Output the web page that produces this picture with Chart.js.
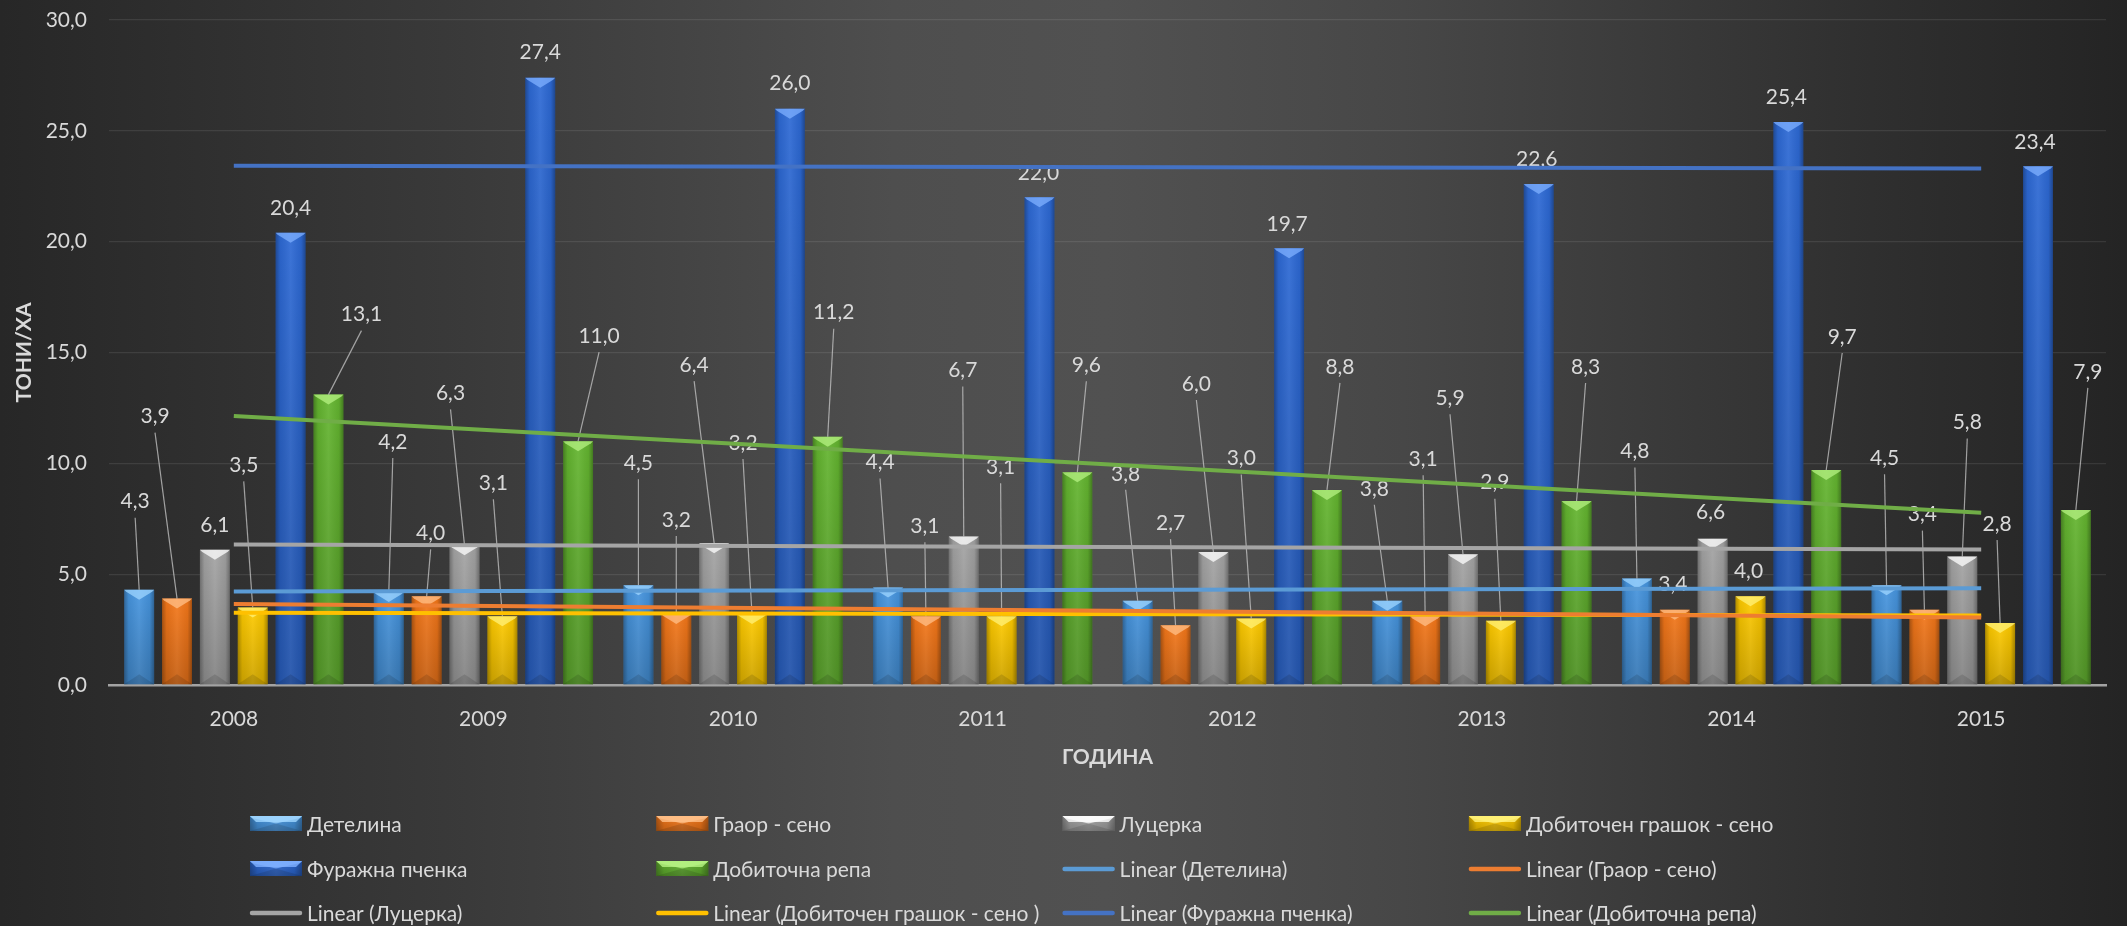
<!DOCTYPE html>
<html><head><meta charset="utf-8">
<script src="https://cdn.jsdelivr.net/npm/chart.js@4.4.1/dist/chart.umd.min.js"></script>
<style>
html,body{margin:0;padding:0;width:2127px;height:926px;overflow:hidden;}
body{background:linear-gradient(90deg,#272727 0%,#3a3a3a 22%,#4e4e4e 42%,#515151 52%,#474747 66%,#2f2f2f 88%,#242424 100%);}
canvas{display:block;}
</style></head><body>
<canvas id="c" width="2127" height="926"></canvas>
<script>
// ---- data ----
const years = ['2008','2009','2010','2011','2012','2013','2014','2015'];
const detelina = [4.3, 4.2, 4.5, 4.4, 3.8, 3.8, 4.8, 4.5];
const graor    = [3.9, 4.0, 3.2, 3.1, 2.7, 3.1, 3.4, 3.4];
const lucerka  = [6.1, 6.3, 6.4, 6.7, 6.0, 5.9, 6.6, 5.8];
const grashok  = [3.5, 3.1, 3.2, 3.1, 3.0, 2.9, 4.0, 2.8];
const pchenka  = [20.4, 27.4, 26.0, 22.0, 19.7, 22.6, 25.4, 23.4];
const repa     = [13.1, 11.0, 11.2, 9.6, 8.8, 8.3, 9.7, 7.9];
// linear trend lines (start at 2008, end at 2015)
const trendDetelina = [4.22, null, null, null, null, null, null, 4.36];
const trendGraor    = [3.65, null, null, null, null, null, null, 3.05];
const trendLucerka  = [6.34, null, null, null, null, null, null, 6.11];
const trendGrashok  = [3.26, null, null, null, null, null, null, 3.14];
const trendPchenka  = [23.43, null, null, null, null, null, null, 23.30];
const trendRepa     = [12.13, null, null, null, null, null, null, 7.77];
const yTicks = [0, 5, 10, 15, 20, 25, 30];

// ---- label placement (pixel offsets of each value label from its bar top) ----
const labelDx = [
  [-4, 4, 0, -8, -12, -13, -2, -2],
  [-22, 4, 0, -1, -5, -2, -2, -2],
  [0, -14, -20, -1, -17, -13, -2, 5],
  [-9, -9, -9, -1, -10, -6, -2, -3],
  [0, 0, 0, -1, -2, -2, -2, -3],
  [33, 21, 6, 9, 13, 9, 16, 12]
];
const labelDy = [
  [-88, -150, -122, -125, -127, -112, -127, -127],
  [-182, -63, -94, -90, -102, -157, -25, -95],
  [-25, -152, -178, -166, -168, -156, -26, -134],
  [-142, -133, -171, -149, -160, -138, -25, -99],
  [-25, -25, -25, -24, -24, -25, -25, -24],
  [-80, -105, -124, -107, -123, -134, -133, -138]
];

const FONT = "Lato, 'Open Sans', 'Liberation Sans', sans-serif";
const TXT = '#d9d9d9';
const fmt = v => v.toFixed(1).replace('.', ',');

function bar(label, data, color, hi) {
  return {type:'bar', label, data, backgroundColor: color, hiColor: hi, borderWidth: 0,
    order: 2, categoryPercentage: 0.91, barPercentage: 0.79};
}
function trend(label, data, color) {
  return {type:'line', label, data, borderColor: color, backgroundColor: color, borderWidth: 4,
    pointRadius: 0, pointHoverRadius: 0, spanGaps: true, fill: false, order: 1, tension: 0};
}

const datasets = [
  bar('Детелина', detelina, '#4796e0', '#9fd6ff'),
  bar('Граор - сено', graor, '#f5781a', '#ffc08a'),
  bar('Луцерка', lucerka, '#a4a4a4', '#ffffff'),
  bar('Добиточен грашок - сено', grashok, '#ffcb00', '#fff27a'),
  bar('Фуражна пченка', pchenka, '#2d69d4', '#7fb0ff'),
  bar('Добиточна репа', repa, '#64b530', '#b6f283'),
  trend('Linear (Детелина)', trendDetelina, '#5b9bd5'),
  trend('Linear (Граор - сено)', trendGraor, '#ed7d31'),
  trend('Linear (Луцерка)', trendLucerka, '#a5a5a5'),
  trend('Linear (Добиточен грашок - сено )', trendGrashok, '#ffc000'),
  trend('Linear (Фуражна пченка)', trendPchenka, '#4472c4'),
  trend('Linear (Добиточна репа)', trendRepa, '#70ad47')
];

function bevelBar(ctx, l, r, top, base, color, hi) {
  const w = r - l, x = (l + r) / 2, h = base - top;
  if (h <= 0) return;
  let g = ctx.createLinearGradient(l, 0, r, 0);
  g.addColorStop(0, 'rgba(0,0,0,0.30)');
  g.addColorStop(0.15, 'rgba(0,0,0,0.06)');
  g.addColorStop(0.5, 'rgba(255,255,255,0.07)');
  g.addColorStop(0.85, 'rgba(0,0,0,0.06)');
  g.addColorStop(1, 'rgba(0,0,0,0.32)');
  ctx.fillStyle = g; ctx.fillRect(l, top, w, h);
  g = ctx.createLinearGradient(0, top, 0, base);
  g.addColorStop(0, 'rgba(0,0,0,0)');
  g.addColorStop(1, 'rgba(0,0,0,0.18)');
  ctx.fillStyle = g; ctx.fillRect(l, top, w, h);
  const bh = Math.min(10, h / 2);
  ctx.beginPath(); ctx.moveTo(l, top); ctx.lineTo(r, top); ctx.lineTo(r - 2, top + 2); ctx.lineTo(x, top + bh); ctx.lineTo(l + 2, top + 2); ctx.closePath();
  ctx.globalAlpha = 0.75; ctx.fillStyle = hi; ctx.fill(); ctx.globalAlpha = 1;
  ctx.beginPath(); ctx.moveTo(l, base); ctx.lineTo(r, base); ctx.lineTo(x, base - bh); ctx.closePath();
  ctx.fillStyle = 'rgba(0,0,0,0.12)'; ctx.fill();
}

let labelsDrawn = false;
const decor = {
  id: 'decor',
  beforeDraw() { labelsDrawn = false; },
  afterDatasetDraw(chart, args) {
    const ds = chart.data.datasets[args.index];
    if (ds.type !== 'bar') return;
    const ctx = chart.ctx; ctx.save();
    args.meta.data.forEach(el => {
      const p = el.getProps(['x','y','base','width'], true);
      bevelBar(ctx, p.x - p.width/2, p.x + p.width/2, p.y, p.base, ds.backgroundColor, ds.hiColor);
    });
    ctx.restore();
  },
  beforeDatasetDraw(chart, args) {
    const ds = chart.data.datasets[args.index];
    if (ds.type !== 'line' || labelsDrawn) return;
    labelsDrawn = true;
    const ctx = chart.ctx; ctx.save();
    ctx.font = '21px ' + FONT; ctx.textAlign = 'center'; ctx.textBaseline = 'middle';
    chart.data.datasets.forEach((d, i) => {
      if (d.type !== 'bar') return;
      chart.getDatasetMeta(i).data.forEach((el, j) => {
        const p = el.getProps(['x','y'], true);
        const lx = p.x + labelDx[i][j], ly = p.y + labelDy[i][j];
        if (labelDy[i][j] < -35) {
          ctx.strokeStyle = 'rgba(200,200,200,0.75)'; ctx.lineWidth = 1.2;
          ctx.beginPath(); ctx.moveTo(lx, ly + 16); ctx.lineTo(p.x, p.y); ctx.stroke();
        }
        ctx.fillStyle = TXT;
        ctx.fillText(fmt(d.data[j]), lx, ly);
      });
    });
    ctx.restore();
  },
  afterDraw(chart) {
    const ctx = chart.ctx; ctx.save();
    ctx.font = '21px ' + FONT; ctx.textBaseline = 'middle'; ctx.textAlign = 'left';
    const rows = [824, 869, 913];
    chart.data.datasets.forEach((d, i) => {
      const col = i % 4, row = Math.floor(i / 4);
      const x = 250 + col * 406.3, y = rows[row];
      if (d.type === 'bar') {
        ctx.fillStyle = d.backgroundColor; ctx.fillRect(x, y - 8, 52, 15);
        bevelBar(ctx, x, x + 52, y - 8, y + 7, d.backgroundColor, d.hiColor);
        ctx.fillStyle = d.hiColor; ctx.globalAlpha = 0.8;
        ctx.beginPath(); ctx.moveTo(x, y - 8); ctx.lineTo(x + 52, y - 8); ctx.lineTo(x + 46, y - 2); ctx.lineTo(x + 6, y - 2); ctx.closePath(); ctx.fill();
        ctx.globalAlpha = 1;
      } else {
        ctx.strokeStyle = d.borderColor; ctx.lineWidth = 4.5; ctx.lineCap = 'round';
        ctx.beginPath(); ctx.moveTo(x + 2, y); ctx.lineTo(x + 50, y); ctx.stroke();
      }
      ctx.fillStyle = TXT;
      ctx.fillText(d.label, x + 57, y + 1);
    });
    ctx.restore();
  }
};

new Chart(document.getElementById('c'), {
  data: { labels: years, datasets },
  options: {
    responsive: false, animation: false, devicePixelRatio: 1,
    layout: { padding: { top: 20, right: 21, bottom: 150, left: 0 } },
    plugins: { legend: { display: false }, tooltip: { enabled: false } },
    scales: {
      x: {
        grid: { display: false, drawTicks: false },
        border: { display: true, color: '#a3a3a3', width: 2.5 },
        ticks: { color: TXT, font: { family: FONT, size: 21 }, padding: 22 },
        title: { display: true, text: 'ГОДИНА', color: TXT, font: { family: FONT, size: 21, weight: 'bold' }, padding: { top: 4, bottom: 6 } },
        afterFit: s => { s.height = 91; s.paddingLeft = 0; s.paddingRight = 0; }
      },
      y: {
        min: 0, max: 30,
        afterBuildTicks: s => { s.ticks = yTicks.map(v => ({ value: v })); },
        grid: { color: c => c.tick && c.tick.value === 0 ? 'rgba(0,0,0,0)' : 'rgba(255,255,255,0.09)', lineWidth: 1.3, drawTicks: false },
        border: { display: false },
        ticks: { color: TXT, font: { family: FONT, size: 21 }, padding: 22, callback: v => fmt(v) },
        title: { display: true, text: 'ТОНИ/ХА', color: TXT, font: { family: FONT, size: 21, weight: 'bold' }, padding: { top: 12, bottom: 0 } },
        afterFit: s => { s.width = 109; s.paddingTop = 0; s.paddingBottom = 0; }
      }
    }
  },
  plugins: [decor]
});
</script>
</body></html>
